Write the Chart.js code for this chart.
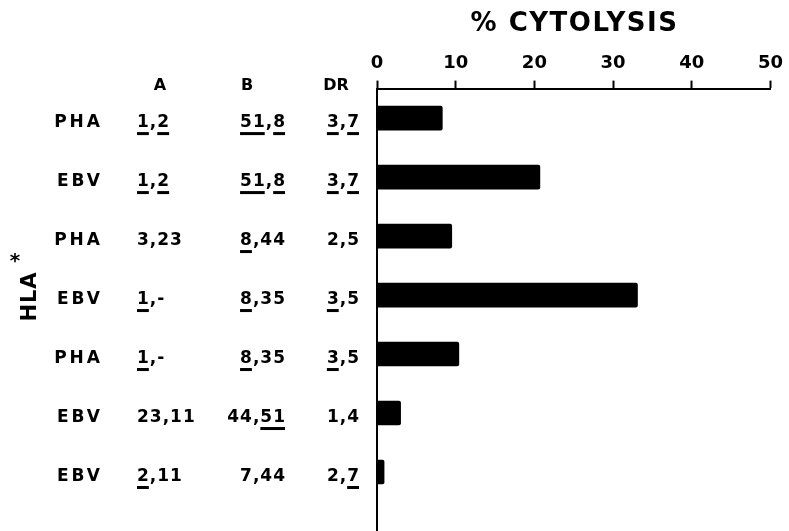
<!DOCTYPE html>
<html>
<head>
<meta charset="utf-8">
<script src="https://cdn.jsdelivr.net/npm/chart.js@4"></script>
<style>
  html,body{margin:0;padding:0;background:#fff;}
  #wrap{width:789px;height:531px;position:relative;}
</style>
</head>
<body>
<div id="wrap"><canvas id="c"></canvas></div>
<script>
// data; [..] marks underlined characters
const stimuli = ['PHA','EBV','PHA','EBV','PHA','EBV','EBV'];
const hlaA = ['[1],[2]','[1],[2]','3,23','[1],-','[1],-','23,11','[2],11'];
const hlaB = ['[51],[8]','[51],[8]','[8],44','[8],35','[8],35','44,[51]','7,44'];
const hlaDR = ['[3],[7]','[3],[7]','2,5','[3],5','[3],5','1,4','2,[7]'];
const columnHeads = ['A','B','DR'];
const cytolysis = [8.3, 20.7, 9.5, 33.1, 10.4, 3.0, 0.9];
const xTicks = [0,10,20,30,40,50];
const axisTitle = '% CYTOLYSIS';
const sideTitle = 'HLA';

Chart.defaults.font.family = 'DejaVu Sans';
Chart.defaults.color = '#000';

function drawMarked(ctx, str, x, y, align){
  let plain='', marks=[], start=0;
  for(const ch of str){
    if(ch==='['){ start=plain.length; continue; }
    if(ch===']'){ marks.push([start, plain.length]); continue; }
    plain+=ch;
  }
  const sp = parseFloat(ctx.letterSpacing)||0;
  const w = ctx.measureText(plain).width - sp;
  let x0 = align==='right' ? x-w : align==='center' ? x-w/2 : x;
  ctx.textAlign='left';
  ctx.fillText(plain, x0, y);
  marks.forEach(([a,b])=>{
    const off = ctx.measureText(plain.slice(0,a)).width;
    const len = ctx.measureText(plain.slice(a,b)).width - sp;
    ctx.fillRect(x0+off, y+5, len, 3);
  });
}

const tablePlugin = {
  id:'table',
  afterDraw(chart){
    const ctx=chart.ctx, y=chart.scales.y, area=chart.chartArea;
    ctx.save();
    ctx.fillStyle='#000';
    ctx.textBaseline='alphabetic';

    // axis title
    ctx.font='bold 26px "DejaVu Sans"';
    ctx.letterSpacing='1.5px';
    drawMarked(ctx, axisTitle, (area.left+area.right)/2, 31, 'center');

    // column heads
    ctx.font='bold 16px "DejaVu Sans"';
    ctx.letterSpacing='0px';
    const headY = y.getPixelForValue(-0.6)+7;
    drawMarked(ctx, columnHeads[0], 160, headY, 'center');
    drawMarked(ctx, columnHeads[1], 247, headY, 'center');
    drawMarked(ctx, columnHeads[2], 336, headY, 'center');

    // rows
    stimuli.forEach((s,i)=>{
      const py = y.getPixelForValue(i)+9;
      ctx.font='bold 17px "DejaVu Sans"';
      ctx.letterSpacing='3px';
      drawMarked(ctx, s, 100, py, 'right');
      ctx.letterSpacing='1px';
      drawMarked(ctx, hlaA[i], 137, py, 'left');
      drawMarked(ctx, hlaB[i], 285, py, 'right');
      drawMarked(ctx, hlaDR[i], 359, py, 'right');
    });

    // rotated side label
    ctx.font='bold 21px "DejaVu Sans"';
    ctx.letterSpacing='1px';
    ctx.translate(36, 297);
    ctx.rotate(-Math.PI/2);
    drawMarked(ctx, sideTitle, 0, 0, 'center');
    ctx.rotate(Math.PI/2);
    ctx.translate(-36, -297);
    ctx.font='bold 20px "DejaVu Sans"';
    ctx.letterSpacing='0px';
    drawMarked(ctx, '*', 15, 267, 'center');
    ctx.restore();
  }
};

new Chart(document.getElementById('c'), {
  type:'bar',
  data:{
    datasets:[{
      data: cytolysis.map((v,i)=>({x:v, y:i})),
      backgroundColor:'#000',
      borderWidth:0,
      borderRadius:2,
      borderSkipped:'start',
      barThickness:24
    }]
  },
  options:{
    indexAxis:'y',
    responsive:true,
    maintainAspectRatio:false,
    animation:false,
    layout:{padding:{left:377, top:47, right:16, bottom:0}},
    plugins:{legend:{display:false}, tooltip:{enabled:false}},
    scales:{
      x:{
        type:'linear', position:'top', min:0, max:50,
        afterBuildTicks(scale){ scale.ticks = xTicks.map(v=>({value:v})); },
        ticks:{color:'#000', font:{size:18, weight:'bold'}, padding:6},
        grid:{drawOnChartArea:false, drawTicks:true, tickLength:8, tickWidth:2, tickColor:'#000'},
        border:{color:'#000', width:2}
      },
      y:{
        type:'linear', position:'left', reverse:true, min:-0.5, max:7, offset:false,
        ticks:{display:false},
        grid:{display:false, drawTicks:false, offset:false},
        border:{color:'#000', width:2}
      }
    }
  },
  plugins:[tablePlugin]
});
</script>
</body>
</html>
